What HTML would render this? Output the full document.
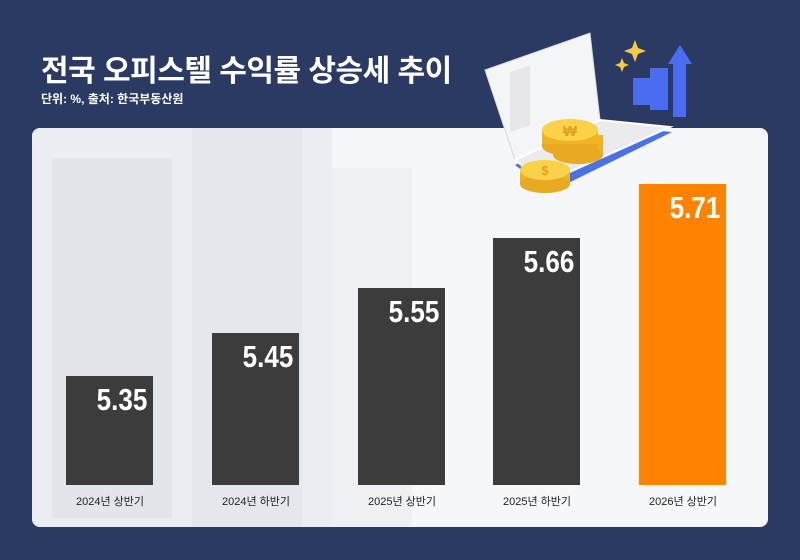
<!DOCTYPE html>
<html><head><meta charset="utf-8"><style>
body{margin:0;width:800px;height:560px;background:#2b3a63;position:relative;overflow:hidden;font-family:"Liberation Sans","Noto Sans CJK KR",sans-serif}
.t{position:absolute;left:41px;top:46px;color:#fff;font-size:30px;font-weight:bold;letter-spacing:-0.5px}
.s{position:absolute;left:41px;top:90px;color:#fff;font-size:12px;font-weight:bold}
.card{position:absolute;left:32px;top:128px;width:736px;height:399px;background:#f6f7f9;border-radius:8px;overflow:hidden}
.bg{position:absolute}
.bar{position:absolute;width:87px;background:#3c3c3c;color:#fff;font-size:31px;font-weight:bold;text-align:right;box-sizing:border-box;padding:6px 6px 0 0}
.bar span{display:inline-block;transform:scaleX(0.84);transform-origin:right top}
.lb{position:absolute;top:493px;width:120px;text-align:center;font-size:11px;color:#222}
</style></head><body>
<div class="t">전국 오피스텔 수익률 상승세 추이</div>
<div class="s">단위: %, 출처: 한국부동산원</div>
<div class="card">
<div class="bg" style="left:0;top:0;width:300px;height:399px;background:#eaedf1"></div>
<div class="bg" style="left:20px;top:30px;width:120px;height:360px;background:#e2e6eb"></div>
<div class="bg" style="left:160px;top:0;width:110px;height:399px;background:#e4e8ed"></div>
<div class="bg" style="left:300px;top:40px;width:80px;height:359px;background:#eef0f3"></div>
</div>
<div class="bar" style="left:66px;top:376px;height:109px"><span>5.35</span></div>
<div class="bar" style="left:212px;top:333px;height:152px"><span>5.45</span></div>
<div class="bar" style="left:358px;top:288px;height:197px"><span>5.55</span></div>
<div class="bar" style="left:493px;top:238px;height:247px"><span>5.66</span></div>
<div class="bar" style="left:639px;top:184px;height:301px;background:#ff8300"><span>5.71</span></div>
<div class="lb" style="left:50px">2024년 상반기</div>
<div class="lb" style="left:196px">2024년 하반기</div>
<div class="lb" style="left:342px">2025년 상반기</div>
<div class="lb" style="left:477px">2025년 하반기</div>
<div class="lb" style="left:623px">2026년 상반기</div>
<svg style="position:absolute;left:470px;top:20px" width="250" height="180" viewBox="0 0 250 180">
<polygon points="45,145 130,105 202,112 80,172" fill="#4a72e6"/>
<polygon points="15,50 120,13 130,100 45,140" fill="#f4f5f7" stroke="#d8d8dc"/>
<rect x="40" y="65" width="20" height="60" fill="#e6e6e8" transform="skewY(-18)"/>
<polygon points="45,140 130,100 200,107 75,163" fill="#ebebed" stroke="#fff" stroke-width="2"/>
<rect x="163" y="58" width="17" height="27" fill="#4a6cf0"/>
<rect x="180" y="48" width="18" height="42" fill="#4a6cf0"/>
<polygon points="198,44 210,25 222,44 216,44 216,97 203,97 203,44" fill="#4a6cf0"/>
<path d="M165 20 l3 8 8 3 -8 3 -3 8 -3 -8 -8 -3 8 -3z" fill="#f7c948"/>
<path d="M152 38 l2 5 5 2 -5 2 -2 5 -2 -5 -5 -2 5 -2z" fill="#f7c948"/>
<rect x="83" y="115" width="50" height="20" fill="#f0b324"/>
<ellipse cx="108" cy="135" rx="25" ry="9" fill="#e9a920"/>
<rect x="72" y="110" width="56" height="16" fill="#f0b324"/>
<ellipse cx="100" cy="126" rx="28" ry="10" fill="#e9a920"/>
<rect x="72" y="110" width="56" height="14" fill="#f0b324"/>
<ellipse cx="100" cy="110" rx="28" ry="11" fill="#f9d24a"/>
<text x="100" y="116" font-size="15" font-weight="bold" fill="#e0a020" text-anchor="middle">₩</text>
<rect x="50" y="150" width="50" height="14" fill="#f0b324"/>
<ellipse cx="75" cy="164" rx="25" ry="9" fill="#e9a920"/>
<ellipse cx="75" cy="150" rx="25" ry="10" fill="#f9d24a"/>
<text x="75" y="155" font-size="13" font-weight="bold" fill="#e0a020" text-anchor="middle">$</text>
</svg>
</body></html>
